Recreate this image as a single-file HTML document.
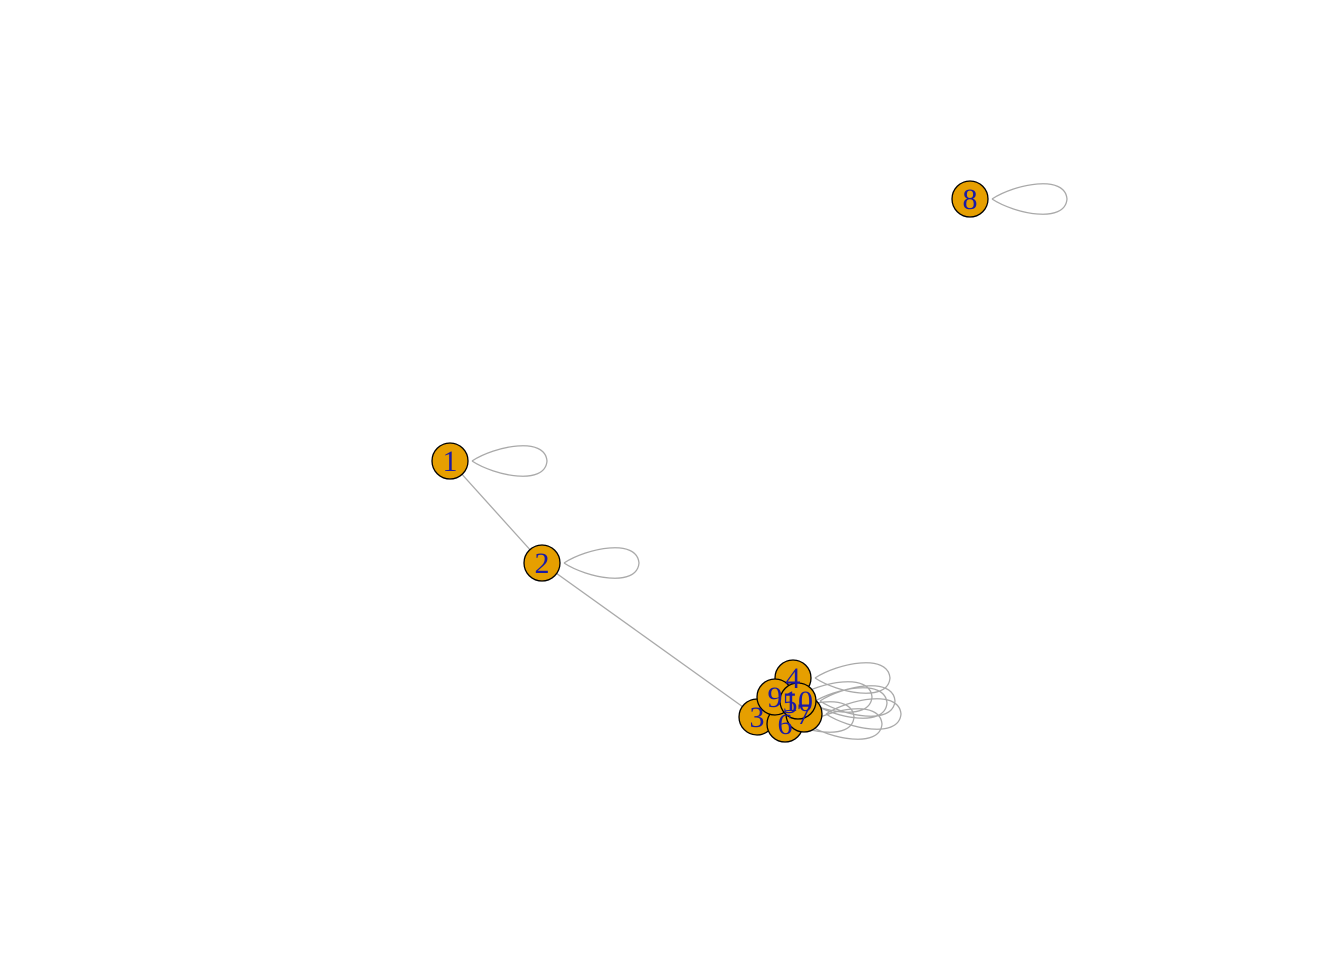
<!DOCTYPE html>
<html><head><meta charset="utf-8"><style>
html,body{margin:0;padding:0;background:#fff;}
svg{display:block;}
</style></head><body>
<svg id="g" width="1344" height="960"></svg>
<script>
const nodeIds=["1","2","3","4","5","6","7","8","9","10"];
const nodeX=[450,542,757,793,790,785,804,970,775,798];
const nodeY=[461,563,717,678,703,724,714,199,697,701];
const edgeFrom=[0,1];
const edgeTo=[1,2];
const loopNodes=[0,1,2,3,4,5,6,7,8,9];
const NS="http://www.w3.org/2000/svg";
const svg=document.getElementById('g');
function mk(t,a){const e=document.createElementNS(NS,t);for(const k in a)e.setAttribute(k,a[k]);return e;}
for(let i=0;i<edgeFrom.length;i++){
  const a=edgeFrom[i],b=edgeTo[i];
  const l=mk('line',{x1:nodeX[a],y1:nodeY[a],x2:nodeX[b],y2:nodeY[b],stroke:'#a9a9a9','stroke-width':1.3});
  
  
  svg.appendChild(l);
}
for(const n of loopNodes){
  const x=nodeX[n],y=nodeY[n];
  const d=`M${x+22},${y} C${x+45},${y-15} ${x+95},${y-25} ${x+97},${y} C${x+95},${y+25} ${x+45},${y+15} ${x+22},${y}`;
  const p=mk('path',{d:d,fill:'none',stroke:'#a9a9a9','stroke-width':1.3});
  
  
  svg.appendChild(p);
}
for(let i=0;i<nodeIds.length;i++){
  const c=mk('circle',{cx:nodeX[i],cy:nodeY[i],r:18,fill:'#E69F00',stroke:'#000','stroke-width':1.3});
  
  
  svg.appendChild(c);
}
for(let i=0;i<nodeIds.length;i++){
  const t=mk('text',{x:nodeX[i],y:nodeY[i]+10,'text-anchor':'middle','font-family':'Liberation Serif, serif','font-size':30,fill:'#1a1aa6'});
  
  
  t.textContent=nodeIds[i];
  svg.appendChild(t);
}
</script>
</body></html>
